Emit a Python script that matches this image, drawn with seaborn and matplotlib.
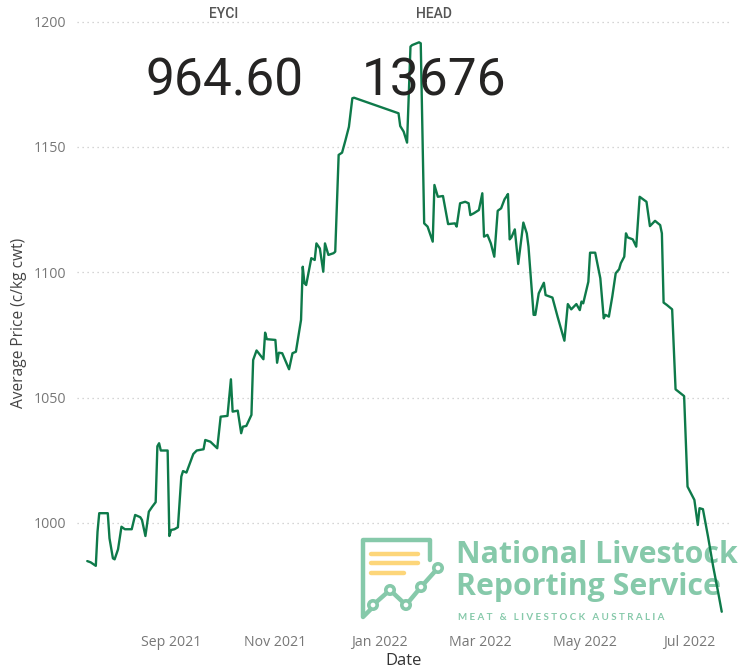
import matplotlib
matplotlib.use("Agg")
import matplotlib.pyplot as plt
import matplotlib.dates as mdates
from matplotlib.patches import Circle
import pandas as pd
import seaborn as sns

# EYCI daily indicator
dates = [
    "2021-07-14", "2021-07-16", "2021-07-19", "2021-07-20", "2021-07-21", "2021-07-26",
    "2021-07-27", "2021-07-29", "2021-07-30", "2021-08-01", "2021-08-03", "2021-08-05",
    "2021-08-09", "2021-08-11", "2021-08-14", "2021-08-15", "2021-08-17", "2021-08-19",
    "2021-08-21", "2021-08-23", "2021-08-24", "2021-08-25", "2021-08-26", "2021-08-30",
    "2021-08-31", "2021-09-01", "2021-09-03", "2021-09-05", "2021-09-07", "2021-09-08",
    "2021-09-10", "2021-09-12", "2021-09-14", "2021-09-16", "2021-09-20", "2021-09-21",
    "2021-09-24", "2021-09-28", "2021-09-30", "2021-10-04", "2021-10-06", "2021-10-07",
    "2021-10-10", "2021-10-12", "2021-10-13", "2021-10-15", "2021-10-18", "2021-10-19",
    "2021-10-21", "2021-10-25", "2021-10-26", "2021-10-27", "2021-11-01", "2021-11-02",
    "2021-11-03", "2021-11-05", "2021-11-09", "2021-11-11", "2021-11-13", "2021-11-16",
    "2021-11-17", "2021-11-18", "2021-11-19", "2021-11-22", "2021-11-24", "2021-11-25",
    "2021-11-27", "2021-11-29", "2021-11-30", "2021-12-02", "2021-12-05", "2021-12-06",
    "2021-12-08", "2021-12-10", "2021-12-12", "2021-12-14", "2021-12-16", "2021-12-17",
    "2022-01-12", "2022-01-13", "2022-01-15", "2022-01-17", "2022-01-19", "2022-01-20",
    "2022-01-24", "2022-01-25", "2022-01-27", "2022-01-29", "2022-02-01", "2022-02-02",
    "2022-02-04", "2022-02-07", "2022-02-10", "2022-02-14", "2022-02-15", "2022-02-17",
    "2022-02-20", "2022-02-22", "2022-02-23", "2022-02-25", "2022-02-28", "2022-03-02",
    "2022-03-03", "2022-03-05", "2022-03-07", "2022-03-09", "2022-03-11", "2022-03-13",
    "2022-03-15", "2022-03-16", "2022-03-17", "2022-03-18", "2022-03-19", "2022-03-21",
    "2022-03-23", "2022-03-26", "2022-03-28", "2022-03-29", "2022-04-01", "2022-04-02",
    "2022-04-04", "2022-04-07", "2022-04-08", "2022-04-12", "2022-04-15", "2022-04-19",
    "2022-04-21", "2022-04-23", "2022-04-26", "2022-04-28", "2022-04-29", "2022-04-30",
    "2022-05-03", "2022-05-04", "2022-05-07", "2022-05-10", "2022-05-12", "2022-05-13",
    "2022-05-15", "2022-05-17", "2022-05-19", "2022-05-21", "2022-05-22", "2022-05-24",
    "2022-05-25", "2022-05-26", "2022-05-29", "2022-05-31", "2022-06-02", "2022-06-06",
    "2022-06-08", "2022-06-11", "2022-06-14", "2022-06-15", "2022-06-16", "2022-06-18",
    "2022-06-21", "2022-06-23", "2022-06-28", "2022-06-30", "2022-07-04", "2022-07-06",
    "2022-07-07", "2022-07-09", "2022-07-12", "2022-07-15", "2022-07-18", "2022-07-20",
]
prices = [
    984.8, 984.3, 982.9, 996.5, 1003.9, 1003.9,
    993.9, 985.9, 985.5, 989.5, 998.5, 997.5,
    997.5, 1003.2, 1002.3, 1001.2, 994.8, 1004.5,
    1006.5, 1008.3, 1030.6, 1031.8, 1028.9, 1028.9,
    994.8, 997.2, 997.5, 998.3, 1018.5, 1020.7,
    1020.1, 1023.8, 1027.5, 1028.9, 1029.4, 1033.1,
    1032.4, 1029.8, 1042.4, 1042.7, 1057.3, 1044.4,
    1044.8, 1035.8, 1038.4, 1038.7, 1043.1, 1065.0,
    1068.8, 1065.3, 1075.9, 1073.3, 1073.0, 1063.9,
    1067.9, 1067.7, 1061.3, 1067.7, 1068.3, 1081.0,
    1102.2, 1095.6, 1094.9, 1105.6, 1104.9, 1111.5,
    1109.5, 1100.2, 1111.5, 1106.9, 1107.6, 1108.2,
    1146.8, 1147.7, 1152.7, 1158.0, 1169.4, 1169.6,
    1163.4, 1158.3, 1156.1, 1151.7, 1190.0, 1190.6,
    1191.7, 1191.3, 1119.5, 1118.2, 1112.2, 1134.8,
    1130.1, 1130.4, 1119.2, 1119.5, 1118.2, 1127.5,
    1128.1, 1127.5, 1122.8, 1123.5, 1124.8, 1131.5,
    1114.2, 1114.9, 1111.5, 1106.2, 1124.5, 1125.5,
    1129.1, 1130.1, 1131.2, 1113.1, 1113.9, 1117.1,
    1103.3, 1119.8, 1115.5, 1110.2, 1083.0, 1083.0,
    1091.6, 1095.8, 1090.9, 1089.9, 1082.3, 1072.7,
    1087.3, 1085.2, 1087.3, 1084.9, 1088.3, 1087.6,
    1096.2, 1107.8, 1107.8, 1097.6, 1081.6, 1083.0,
    1082.3, 1090.3, 1099.6, 1101.2, 1103.6, 1106.2,
    1115.5, 1113.9, 1113.1, 1110.2, 1130.1, 1128.1,
    1118.4, 1120.5, 1118.8, 1115.5, 1087.9, 1086.9,
    1085.2, 1053.3, 1050.6, 1014.5, 1009.2, 999.2,
    1005.9, 1005.5, 994.5, 982.6, 972.0, 964.6,
]

card_labels = ["EYCI", "HEAD"]
card_values = ["964.60", "13676"]

y_ticks = [1000, 1050, 1100, 1150, 1200]
x_ticks = ["2021-09-01", "2021-11-01", "2022-01-01", "2022-03-01", "2022-05-01", "2022-07-01"]

df = pd.DataFrame({"Date": pd.to_datetime(dates), "Average Price": prices})

sns.set_theme(style="white")
plt.rcParams["font.family"] = ["Open Sans", "DejaVu Sans"]

W, H = 750, 670
fig = plt.figure(figsize=(7.5, 6.7), dpi=100)

# logo layer (behind the chart), pixel coordinates
lg = fig.add_axes([0, 0, 1, 1], zorder=0)
lg.set_xlim(0, W)
lg.set_ylim(H, 0)
lg.axis("off")
logo_green = "#86C9AA"
logo_yellow = "#FDD67A"
lg.plot([430, 430, 363, 363, 373], [560, 540, 540, 617, 607], color=logo_green, lw=3.2,
        solid_capstyle="round", solid_joinstyle="round")
for yy, x1 in [(554, 418), (563, 418), (573, 404)]:
    lg.plot([371, x1], [yy, yy], color=logo_yellow, lw=3.2, solid_capstyle="round")
px = [373, 390, 406, 421, 438]
py = [605, 590, 605, 587, 568]
lg.plot(px, py, color=logo_green, lw=3.2)
for a, b in zip(px, py):
    lg.add_patch(Circle((a, b), 4.2, facecolor="white", edgecolor=logo_green, lw=2.6, zorder=3))
lg.text(456, 555, "National Livestock", fontsize=21.8, fontweight="bold", color=logo_green,
        va="center", ha="left", family=["Open Sans", "DejaVu Sans"])
lg.text(456, 587, "Reporting Service", fontsize=21.8, fontweight="bold", color=logo_green,
        va="center", ha="left", family=["Open Sans", "DejaVu Sans"])
lg.text(458, 618, "M E A T   &   L I V E S T O C K   A U S T R A L I A", fontsize=7,
        fontweight="bold", color=logo_green, va="center", ha="left", family=["Lato", "DejaVu Sans"])

# main chart
ax = fig.add_axes([77 / W, 52 / H, 655 / W, 598 / H], zorder=1)
ax.patch.set_alpha(0)
sns.lineplot(data=df, x="Date", y="Average Price", ax=ax, color="#0E7A4A", linewidth=1.7)

ax.set_xlim(pd.Timestamp("2021-07-08"), pd.Timestamp("2022-07-26"))
ax.set_ylim(962.1, 1200.6)
ax.set_yticks(y_ticks)
ax.set_xticks(pd.to_datetime(x_ticks))
ax.xaxis.set_major_formatter(mdates.DateFormatter("%b %Y"))
ax.grid(axis="y", color="#C8C8C8", linestyle=(0, (1, 3)), linewidth=0.9)
ax.grid(axis="x", visible=False)
for s in ax.spines.values():
    s.set_visible(False)
ax.tick_params(axis="both", length=0, labelsize=10.2, labelcolor="#777777")
ax.tick_params(axis="x", pad=12)
ax.tick_params(axis="y", pad=8)
ax.set_ylabel("Average Price (c/kg cwt)", fontsize=11.2, color="#444444")
ax.set_xlabel("Date", fontsize=12, color="#333333")
ax.yaxis.set_label_coords(-0.077, 0.493)
ax.xaxis.set_label_coords(0.499, -0.058)

# card values at the top
for lab, val, cx in zip(card_labels, card_values, [224, 434]):
    fig.text(cx / W, 1 - 14 / H, lab, ha="center", va="center", fontsize=10,
             color="#555555", fontweight="medium", family=["Roboto", "DejaVu Sans"])
    fig.text(cx / W, 1 - 81 / H, val, ha="center", va="center", fontsize=37,
             color="#252423", family=["Roboto", "DejaVu Sans"])

fig.savefig("out.png", dpi=100)
